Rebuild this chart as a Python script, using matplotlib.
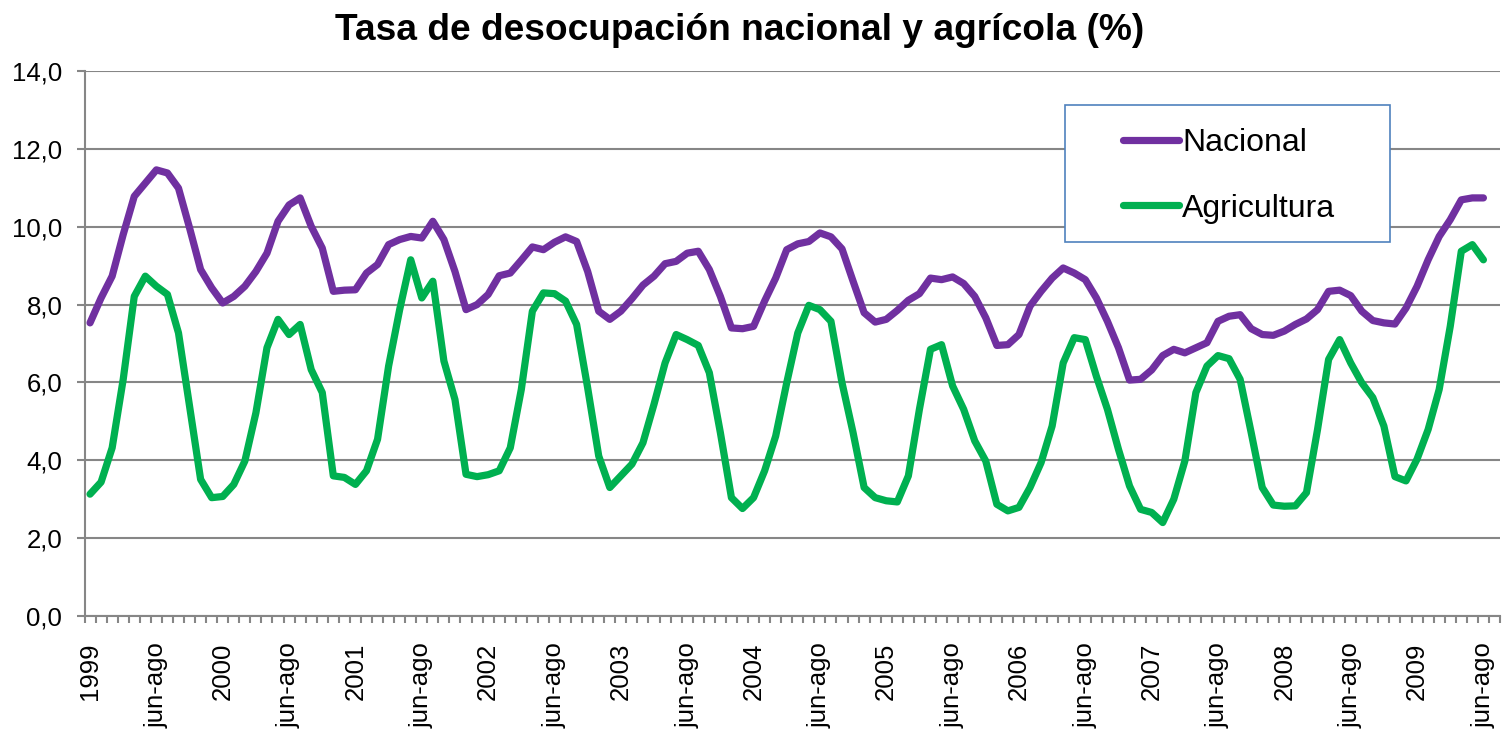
import matplotlib.pyplot as plt
from matplotlib.patches import Rectangle

plt.rcParams['font.family'] = ['Liberation Sans', 'DejaVu Sans']

# --- data: moving quarters, starting 1999 ---
nacional = [
    7.53, 8.17, 8.73, 9.80, 10.78, 11.12, 11.46, 11.38, 10.99, 9.97, 8.90, 8.43, 8.04, 8.21, 8.47, 8.85, 9.32, 10.14,
    10.56, 10.74, 10.01, 9.45, 8.34, 8.37, 8.38, 8.81, 9.03, 9.54, 9.67, 9.75, 9.71, 10.14, 9.67, 8.85, 7.87, 8.00,
    8.26, 8.74, 8.81, 9.14, 9.48, 9.41, 9.60, 9.74, 9.62, 8.85, 7.83, 7.62, 7.83, 8.15, 8.50, 8.73, 9.05, 9.11,
    9.32, 9.37, 8.90, 8.21, 7.40, 7.38, 7.44, 8.09, 8.68, 9.41, 9.56, 9.62, 9.84, 9.74, 9.43, 8.60, 7.79, 7.55,
    7.62, 7.85, 8.11, 8.28, 8.68, 8.64, 8.71, 8.54, 8.21, 7.66, 6.95, 6.97, 7.23, 7.96, 8.34, 8.68, 8.94, 8.81,
    8.64, 8.17, 7.57, 6.89, 6.06, 6.08, 6.32, 6.69, 6.85, 6.76, 6.89, 7.02, 7.57, 7.70, 7.74, 7.38, 7.23, 7.21,
    7.32, 7.49, 7.63, 7.87, 8.34, 8.37, 8.23, 7.83, 7.59, 7.53, 7.50, 7.91, 8.47, 9.15, 9.75, 10.18, 10.69, 10.74, 10.74,
]
agricultura = [
    3.13, 3.44, 4.32, 6.08, 8.21, 8.73, 8.47, 8.26, 7.27, 5.39, 3.51, 3.04, 3.07, 3.38, 3.98, 5.22, 6.89, 7.62,
    7.23, 7.49, 6.33, 5.74, 3.60, 3.56, 3.38, 3.73, 4.54, 6.42, 7.87, 9.15, 8.17, 8.60, 6.55, 5.56, 3.64, 3.58,
    3.63, 3.73, 4.32, 5.82, 7.83, 8.30, 8.28, 8.09, 7.49, 5.86, 4.11, 3.30, 3.60, 3.90, 4.45, 5.44, 6.50, 7.23,
    7.10, 6.95, 6.25, 4.71, 3.04, 2.76, 3.04, 3.73, 4.62, 5.99, 7.27, 7.98, 7.87, 7.57, 5.99, 4.71, 3.30, 3.04,
    2.96, 2.93, 3.60, 5.31, 6.85, 6.97, 5.91, 5.31, 4.50, 3.98, 2.87, 2.70, 2.79, 3.30, 3.94, 4.88, 6.50, 7.15,
    7.10, 6.16, 5.31, 4.28, 3.34, 2.74, 2.66, 2.40, 3.00, 3.98, 5.74, 6.42, 6.69, 6.61, 6.08, 4.71, 3.30, 2.85,
    2.82, 2.83, 3.17, 4.79, 6.59, 7.10, 6.50, 5.99, 5.61, 4.88, 3.58, 3.47, 4.03, 4.79, 5.82, 7.44, 9.37, 9.54, 9.15,
]
years = list(range(1999, 2010))
mid_label = 'jun-ago'
n_slots = 128  # category axis has one empty slot at the end

# labels every 6 categories: year, jun-ago, year, ...
label_pos = []
label_txt = []
for k, yr in enumerate(years):
    label_pos += [12 * k, 12 * k + 6]
    label_txt += [str(yr), mid_label]

x = list(range(len(nacional)))

fig = plt.figure(figsize=(15.05, 7.32), dpi=100)
ax = fig.add_axes([84.5 / 1505, 116 / 732, 1415.5 / 1505, 545 / 732])

grid_c = '#868686'
ax.plot(x, nacional, color='#7030A0', lw=5.2, solid_joinstyle='round',
        solid_capstyle='round', label='Nacional', zorder=4)
ax.plot(x, agricultura, color='#00B050', lw=5.2, solid_joinstyle='round',
        solid_capstyle='round', label='Agricultura', zorder=4)

ax.set_xlim(-0.5, n_slots - 0.5)
ax.set_ylim(0, 14)
ax.set_yticks(range(0, 15, 2))
ax.set_yticklabels([f'{v:.1f}'.replace('.', ',') for v in range(0, 15, 2)])
ax.yaxis.grid(True, color=grid_c, lw=1.5)
ax.set_axisbelow(True)

ax.set_xticks(label_pos)
ax.set_xticklabels(label_txt, rotation=90, va='top', ha='center')
ax.set_xticks([i - 0.5 for i in range(n_slots + 1)], minor=True)
ax.tick_params(axis='x', which='major', length=0, pad=19, labelsize=18.5)
ax.tick_params(axis='x', which='minor', length=5, width=1.5, color=grid_c)
ax.tick_params(axis='y', length=6, width=1.5, color=grid_c, pad=10, labelsize=18.5)

for s in ['top', 'right']:
    ax.spines[s].set_visible(False)
for s in ['left', 'bottom']:
    ax.spines[s].set_color(grid_c)
    ax.spines[s].set_linewidth(1.5)

# legend box
ax.add_patch(Rectangle((0.693, 0.686), 0.229, 0.2516, transform=ax.transAxes,
                       facecolor='white', edgecolor='#4F81BD', lw=1.2, zorder=5))
ax.legend(loc='upper left', bbox_to_anchor=(0.7225, 0.924), frameon=False,
          fontsize=23, borderpad=0, handlelength=1.75, handletextpad=0.1,
          labelspacing=1.1).set_zorder(6)

fig.text(740 / 1505, 1 - 30 / 732, 'Tasa de desocupación nacional y agrícola (%)',
         ha='center', va='center', fontsize=26.7, fontweight='bold')

fig.savefig('out.png', dpi=100)
